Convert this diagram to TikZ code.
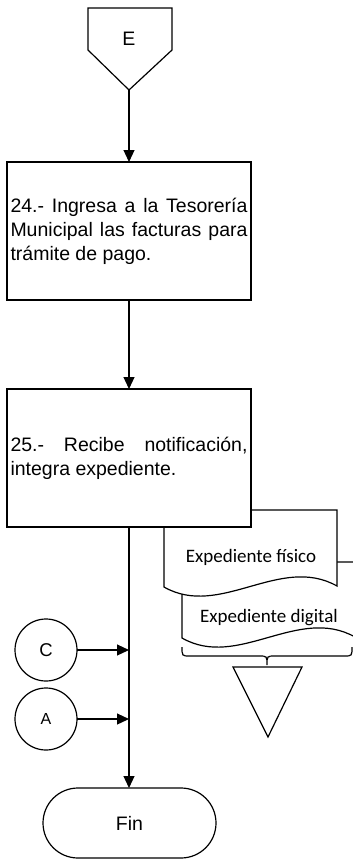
\documentclass[tikz,border=0pt]{standalone}
\usepackage{fontspec}
\setmainfont{Liberation Sans}
\newfontfamily\docfont{Carlito}
\usetikzlibrary{arrows.meta}
\newcommand{\nohyph}{\hyphenpenalty=10000\relax\exhyphenpenalty=10000\relax}
\begin{document}
\begin{tikzpicture}[x=1pt,y=-1pt,
  ln/.style={line width=1.2pt},
  conn/.style={ln,-{Triangle[length=12pt,width=11pt]}},
  procbox/.style={ln,draw,fill=white,minimum width=244pt,minimum height=138pt,
    text width=237pt,align=justify,inner xsep=3.5pt,outer sep=0pt,
    font=\fontsize{19.5}{24}\selectfont},
  circ/.style={ln,draw,circle,minimum size=62pt,inner sep=0pt,outer sep=0pt},
  term/.style={ln,draw,rounded corners=35pt,minimum width=173pt,minimum height=70pt,
    outer sep=0pt,font=\fontsize{19.5}{24}\selectfont},
  doctext/.style={font=\docfont\fontsize{19}{22}\selectfont,inner sep=0pt}
]
\clip (0,0) rectangle (353,859);
\fill[white] (0,0) rectangle (353,859);

% off-page connector E
\draw[ln] (88,8) -- (172,8) -- (172,50) -- (129,90) -- (88,50) -- cycle;
\node[font=\fontsize{19.5}{24}\selectfont] (E) at (129,39) {E};
\coordinate (Eapex) at (129,90);

% documents (drawn before box 25 so it covers them)
\draw[ln,fill=white] (182,562) -- (355,562) -- (355,637)
  .. controls (298,605) and (238,670) .. (182,638) -- cycle;
\node[doctext] (d2) at (269,618) {Expediente digital};
\draw[ln,fill=white] (164,510) -- (337,510) -- (337,586)
  .. controls (280,554) and (220,619) .. (164,587) -- cycle;
\node[doctext] (d1) at (251,557) {Expediente físico};

% process boxes
\node[procbox] (b24) at (129,231) {\nohyph 24.- Ingresa a la Tesorería\linebreak Municipal las facturas para\linebreak trámite de pago.};
\node[procbox] (b25) at (129,458) {\nohyph 25.- Recibe notificación,\linebreak integra expediente.};

% brace and archive triangle
\draw[ln] (182,647) .. controls (182,656) .. (190,656) -- (259,656)
  .. controls (267,656) .. (267,665) .. controls (267,656) .. (275,656)
  -- (344,656) .. controls (352,656) .. (352,647);
\draw[ln] (233,667) -- (302,667) -- (268,737) -- cycle;

% connectors C, A
\node[circ,font=\fontsize{18.5}{22}\selectfont] (C) at (46,650) {C};
\node[circ,font=\fontsize{16}{20}\selectfont] (A) at (46,719) {A};

% terminator
\node[term] (fin) at (129.5,823) {Fin};

\coordinate (jC) at (129,650);
\coordinate (jA) at (129,719);

\draw[conn] (Eapex) -- (b24.north);
\draw[conn] (b24.south) -- (b25.north);
\draw[conn] (b25.south) -- (fin.north -| b25.south);
\draw[conn] (C) -- (jC);
\draw[conn] (A) -- (jA);
\end{tikzpicture}
\end{document}
